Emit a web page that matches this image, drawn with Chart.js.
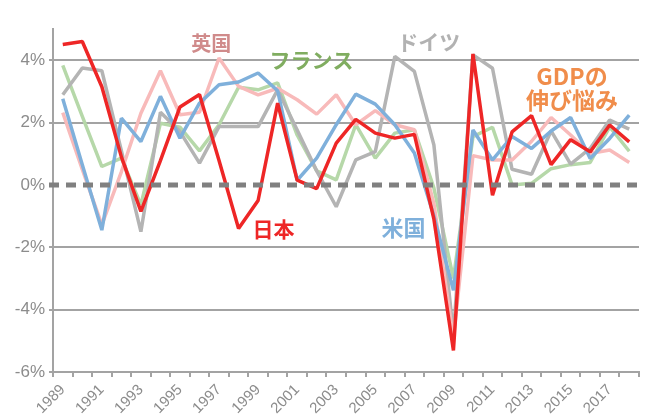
<!DOCTYPE html>
<html lang="ja">
<head>
  <meta charset="UTF-8" />
  <title>GDP成長率の推移</title>
  <script src="https://cdn.jsdelivr.net/npm/chart.js"></script>
  <style>
    body {
      margin: 0;
      background: #fff;
    }
    #wrap {
      position: relative;
      width: 651px;
      height: 415px;
    }
  </style>
</head>
<body>
  <div id="wrap"><canvas id="chart"></canvas></div>

  <script>
    // === data (実質GDP成長率, %) ===
    const years = ['1989', '1990', '1991', '1992', '1993', '1994', '1995', '1996', '1997', '1998',
                   '1999', '2000', '2001', '2002', '2003', '2004', '2005', '2006', '2007', '2008',
                   '2009', '2010', '2011', '2012', '2013', '2014', '2015', '2016', '2017', '2018'];

    const japan   = [4.5, 4.6, 3.15, 0.9, -0.85, 0.78, 2.5, 2.9, 0.78, -1.4, -0.5, 2.62, 0.15, -0.12, 1.34,
                     2.1, 1.66, 1.5, 1.62, -1.1, -5.31, 4.2, -0.33, 1.7, 2.22, 0.65, 1.45, 1.06, 1.92, 1.38];
    const usa     = [2.76, 0.65, -1.45, 2.14, 1.39, 2.84, 1.5, 2.62, 3.21, 3.3, 3.59, 3.02, 0.15, 0.86, 1.93,
                     2.91, 2.59, 1.93, 1.02, -1.0, -3.38, 1.76, 0.8, 1.55, 1.17, 1.73, 2.16, 0.85, 1.49, 2.24];
    const uk      = [2.32, 0.5, -1.28, 0.42, 2.3, 3.66, 2.25, 2.33, 4.07, 3.16, 2.89, 3.1, 2.73, 2.27, 2.89,
                     1.93, 2.38, 1.93, 1.77, -0.6, -4.92, 0.94, 0.8, 0.8, 1.4, 2.16, 1.6, 1.01, 1.12, 0.72];
    const germany = [2.89, 3.75, 3.66, 1.1, -1.5, 2.33, 1.71, 0.7, 1.87, 1.87, 1.87, 3.05, 1.76, 0.45, -0.7,
                     0.8, 1.07, 4.12, 3.64, 1.28, -4.8, 4.17, 3.74, 0.5, 0.34, 1.73, 0.67, 1.17, 2.08, 1.79];
    const france  = [3.83, 2.2, 0.59, 0.86, -0.64, 1.98, 1.85, 1.09, 1.93, 3.13, 3.05, 3.27, 1.6, 0.45, 0.16,
                     1.93, 0.86, 1.66, 1.77, -0.1, -3.0, 1.55, 1.85, 0.0, 0.05, 0.52, 0.65, 0.72, 1.86, 1.08];

    const yTicks = [-6, -4, -2, 0, 2, 4];

    // 注記テキスト (x = 年のインデックス, y = %)
    const notes = [
      { text: '英国',     x: 7.6,   y: 4.55,  color: '#d08b8b', size: 20 },
      { text: 'フランス', x: 12.73, y: 4.0,   color: '#80ad60', size: 21 },
      { text: 'ドイツ',   x: 18.73, y: 4.59,  color: '#b2b2b2', size: 21 },
      { text: 'GDPの',    x: 26.07, y: 3.49,  color: '#f08d4b', size: 23 },
      { text: '伸び悩み', x: 26.07, y: 2.72,  color: '#f08d4b', size: 23 },
      { text: '日本',     x: 10.79, y: -1.42, color: '#ee2626', size: 21 },
      { text: '米国',     x: 17.45, y: -1.36, color: '#7fb0db', size: 22 }
    ];

    const tickFont = { family: '"Liberation Sans", Arial, sans-serif' };
    const gridGrey = '#a3a3a3';

    function line(label, data, color) {
      return {
        label: label,
        data: data,
        borderColor: color,
        backgroundColor: color,
        borderWidth: 3.5,
        borderJoinStyle: 'bevel',
        pointRadius: 0,
        tension: 0,
        fill: false
      };
    }

    // === 0% dashed line ===
    const zeroLine = {
      id: 'zeroLine',
      afterDatasetsDraw(chart) {
        const { ctx, chartArea, scales } = chart;
        const y0 = scales.y.getPixelForValue(0);
        ctx.save();
        ctx.strokeStyle = '#808080';
        ctx.lineWidth = 5;
        ctx.setLineDash([10, 7]);
        ctx.beginPath();
        ctx.moveTo(chartArea.left - 4, y0);
        ctx.lineTo(chartArea.right, y0);
        ctx.stroke();
        ctx.restore();
      }
    };

    // === annotations ===
    const noteLabels = {
      id: 'noteLabels',
      afterDraw(chart) {
        const { ctx, scales } = chart;
        ctx.save();
        ctx.textAlign = 'center';
        ctx.textBaseline = 'middle';
        notes.forEach(n => {
          ctx.font = 'bold ' + n.size + 'px "Noto Sans CJK JP", sans-serif';
          ctx.fillStyle = n.color;
          ctx.fillText(n.text, scales.x.getPixelForValue(n.x), scales.y.getPixelForValue(n.y));
        });
        ctx.restore();
      }
    };

    const ctx = document.getElementById('chart').getContext('2d');
    new Chart(ctx, {
      type: 'line',
      data: {
        labels: years,
        datasets: [
          line('日本', japan, '#ee2626'),
          line('米国', usa, '#7fb0db'),
          line('英国', uk, '#f8baba'),
          line('ドイツ', germany, '#b4b4b4'),
          line('フランス', france, '#b6d8a9')
        ]
      },
      options: {
        responsive: true,
        maintainAspectRatio: false,
        animation: false,
        layout: { padding: { top: 29, right: 12, left: 0, bottom: 0 } },
        plugins: {
          legend: { display: false },
          tooltip: { enabled: false }
        },
        scales: {
          x: {
            offset: true,
            grid: {
              offset: true,
              drawOnChartArea: false,
              drawTicks: true,
              tickLength: 5,
              color: gridGrey,
              lineWidth: 2
            },
            border: { color: gridGrey, width: 2 },
            ticks: {
              autoSkip: false,
              minRotation: 45,
              maxRotation: 45,
              padding: 4,
              color: '#8c8c8c',
              font: { ...tickFont, size: 15 },
              callback: (v, i) => (i % 2 === 0 ? years[i] : '')
            },
            afterFit: s => { s.height = 43; }
          },
          y: {
            min: -6,
            max: 5,
            afterBuildTicks: s => {
              s.ticks = yTicks.map(v => ({ value: v }));
            },
            grid: {
              color: c => (c.tick && c.tick.value === 0 ? 'rgba(0,0,0,0)' : gridGrey),
              lineWidth: 2,
              tickLength: 4
            },
            border: { color: gridGrey, width: 2 },
            ticks: {
              padding: 4,
              color: '#8c8c8c',
              font: { ...tickFont, size: 17 },
              callback: v => v + '%'
            },
            afterFit: s => { s.width = 53; }
          }
        }
      },
      plugins: [zeroLine, noteLabels]
    });
  </script>
</body>
</html>
